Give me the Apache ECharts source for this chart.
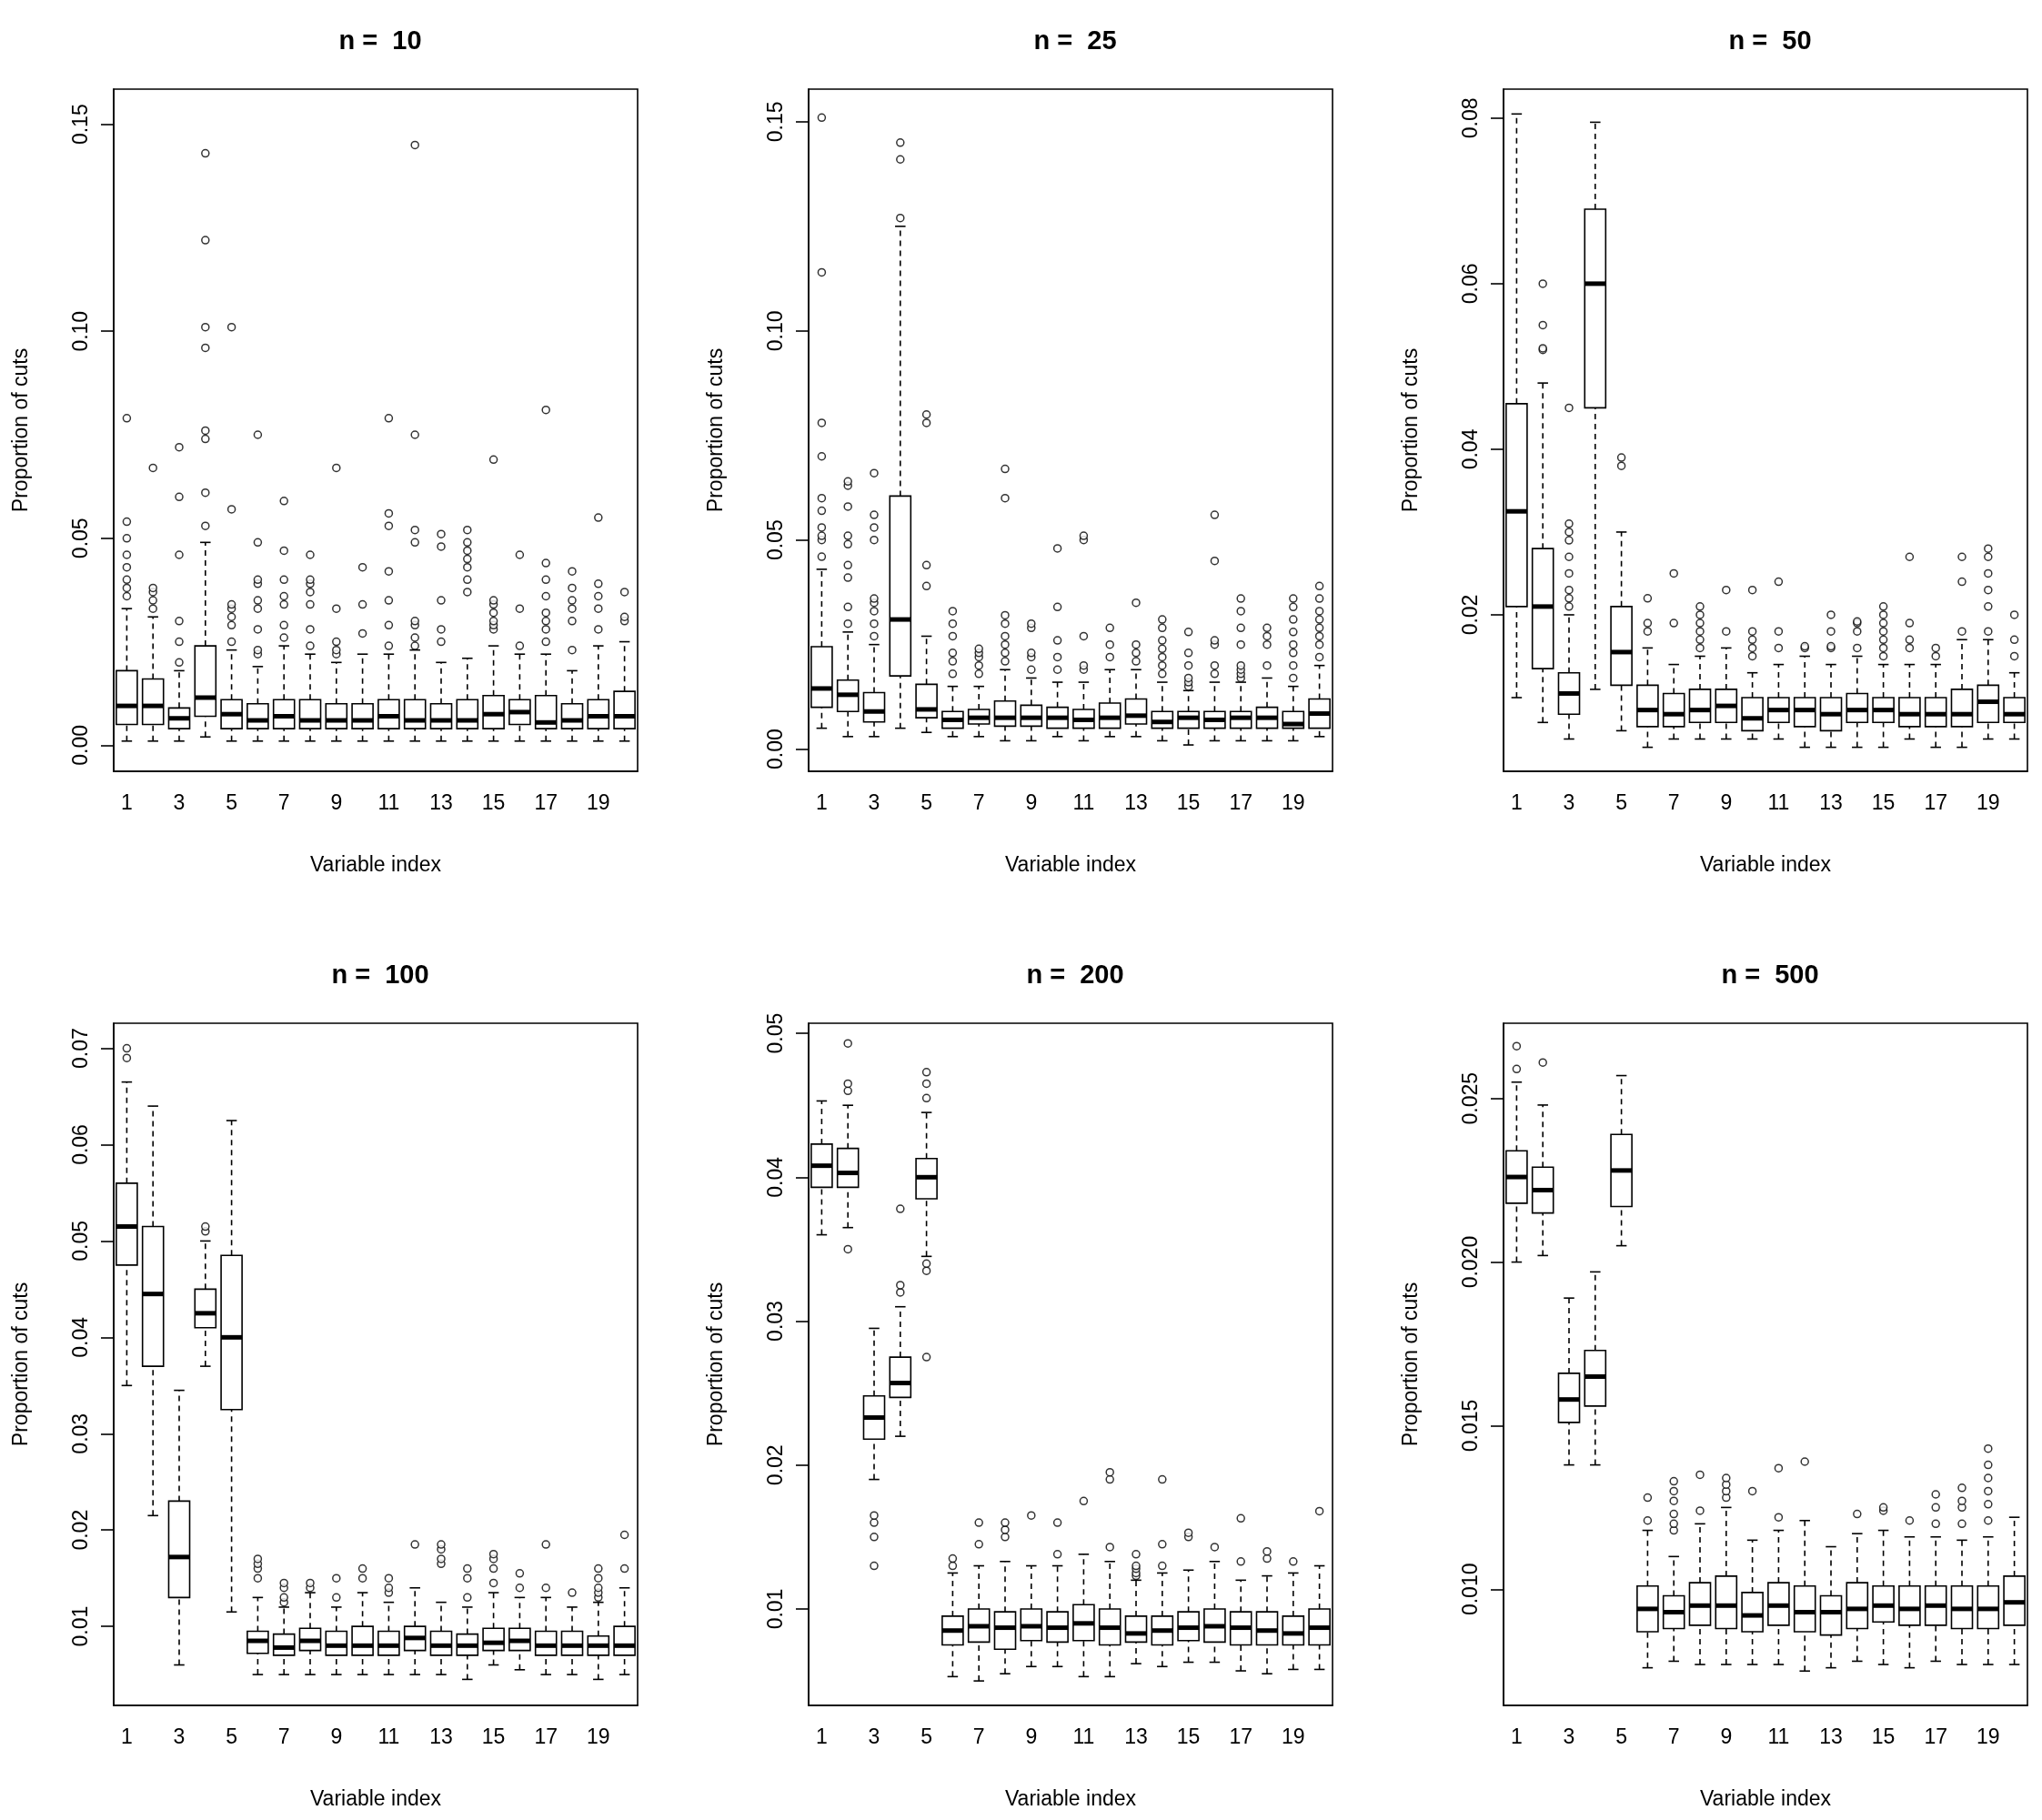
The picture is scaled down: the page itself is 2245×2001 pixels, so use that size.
<!DOCTYPE html><html><head><meta charset="utf-8">
<script src="https://cdn.jsdelivr.net/npm/echarts@6/dist/echarts.min.js"></script>
<style>html,body{margin:0;background:#fff}#c{width:2245px;height:2001px}</style></head><body><div id="c"></div><script>
const categories=Array.from({length:20},(_,i)=>String(i+1));
const panelTitles=["n =  10","n =  25","n =  50","n =  100","n =  200","n =  500"];
const yMin=[-0.0063,-0.0053,0.0011,0.0018,0.0033,0.00645];
const yMax=[0.1585,0.1578,0.0835,0.0726,0.0507,0.0273];
const yTicks=[[0,0.05,0.10,0.15],[0,0.05,0.10,0.15],[0.02,0.04,0.06,0.08],[0.01,0.02,0.03,0.04,0.05,0.06,0.07],[0.01,0.02,0.03,0.04,0.05],[0.010,0.015,0.020,0.025]];
const yDecimals=[2,2,2,2,2,3];
const stats10=[[0.001,0.005,0.0095,0.018,0.033],[0.001,0.005,0.0095,0.016,0.031],[0.001,0.004,0.0065,0.009,0.018],[0.002,0.007,0.0115,0.024,0.049],[0.001,0.004,0.0075,0.011,0.023],[0.001,0.004,0.006,0.010,0.019],[0.001,0.004,0.007,0.011,0.024],[0.001,0.004,0.006,0.011,0.022],[0.001,0.004,0.006,0.010,0.020],[0.001,0.004,0.006,0.010,0.022],[0.001,0.004,0.007,0.011,0.022],[0.001,0.004,0.006,0.011,0.023],[0.001,0.004,0.006,0.010,0.020],[0.001,0.004,0.006,0.011,0.021],[0.001,0.004,0.0075,0.012,0.024],[0.001,0.005,0.008,0.011,0.022],[0.001,0.004,0.0055,0.012,0.022],[0.001,0.004,0.006,0.010,0.018],[0.001,0.004,0.007,0.011,0.024],[0.001,0.004,0.007,0.013,0.025]];
const out10=[[0.036,0.038,0.040,0.043,0.046,0.05,0.054,0.079],[0.033,0.035,0.037,0.038,0.067],[0.02,0.025,0.030,0.046,0.060,0.072],[0.053,0.061,0.074,0.076,0.096,0.101,0.122,0.143],[0.025,0.029,0.031,0.033,0.034,0.057,0.101],[0.022,0.023,0.028,0.033,0.035,0.039,0.040,0.049,0.075],[0.026,0.029,0.034,0.036,0.040,0.047,0.059],[0.024,0.028,0.034,0.037,0.039,0.040,0.046],[0.022,0.023,0.025,0.033,0.067],[0.027,0.034,0.043],[0.024,0.029,0.035,0.042,0.053,0.056,0.079],[0.024,0.026,0.029,0.030,0.049,0.052,0.075,0.145],[0.025,0.028,0.035,0.048,0.051],[0.037,0.040,0.043,0.045,0.047,0.049,0.052],[0.028,0.029,0.030,0.032,0.034,0.035,0.069],[0.024,0.033,0.046],[0.025,0.028,0.030,0.032,0.036,0.040,0.044,0.081],[0.023,0.030,0.033,0.035,0.038,0.042],[0.028,0.033,0.036,0.039,0.055],[0.030,0.031,0.037]];
const stats25=[[0.005,0.010,0.0145,0.0245,0.043],[0.003,0.009,0.013,0.0165,0.028],[0.003,0.0065,0.009,0.0135,0.025],[0.005,0.0175,0.031,0.0605,0.125],[0.004,0.0075,0.0095,0.0155,0.027],[0.003,0.005,0.007,0.009,0.015],[0.003,0.006,0.0075,0.0095,0.015],[0.002,0.0055,0.0075,0.0115,0.019],[0.002,0.0055,0.0075,0.0105,0.017],[0.003,0.005,0.0075,0.010,0.016],[0.002,0.005,0.007,0.0095,0.016],[0.003,0.005,0.0075,0.011,0.019],[0.003,0.006,0.008,0.012,0.019],[0.002,0.005,0.0065,0.009,0.016],[0.001,0.005,0.0075,0.009,0.014],[0.002,0.005,0.007,0.009,0.016],[0.002,0.005,0.0075,0.009,0.016],[0.002,0.005,0.0075,0.010,0.017],[0.002,0.005,0.006,0.009,0.015],[0.003,0.005,0.0085,0.012,0.020]];
const out25=[[0.046,0.050,0.051,0.053,0.057,0.060,0.070,0.078,0.114,0.151],[0.030,0.034,0.041,0.044,0.049,0.051,0.058,0.063,0.064],[0.027,0.030,0.033,0.035,0.036,0.050,0.053,0.056,0.066],[0.127,0.141,0.145],[0.039,0.044,0.078,0.080],[0.018,0.021,0.023,0.027,0.030,0.033],[0.018,0.020,0.022,0.023,0.024],[0.021,0.023,0.025,0.027,0.030,0.032,0.060,0.067],[0.019,0.022,0.023,0.029,0.030],[0.019,0.022,0.026,0.034,0.048],[0.019,0.020,0.027,0.050,0.051],[0.022,0.025,0.029],[0.021,0.023,0.025,0.035],[0.018,0.020,0.022,0.024,0.026,0.029,0.031],[0.015,0.016,0.017,0.020,0.023,0.028],[0.018,0.020,0.025,0.026,0.045,0.056],[0.017,0.018,0.019,0.020,0.025,0.029,0.033,0.036],[0.020,0.025,0.027,0.029],[0.017,0.020,0.023,0.025,0.028,0.031,0.034,0.036],[0.022,0.025,0.027,0.029,0.031,0.033,0.036,0.039]];
const stats50=[[0.010,0.021,0.0325,0.0455,0.0805],[0.007,0.0135,0.021,0.028,0.048],[0.005,0.008,0.0105,0.013,0.020],[0.011,0.045,0.060,0.069,0.0795],[0.006,0.0115,0.0155,0.021,0.030],[0.004,0.0065,0.0085,0.0115,0.016],[0.005,0.0065,0.008,0.0105,0.014],[0.005,0.007,0.0085,0.011,0.015],[0.005,0.007,0.009,0.011,0.016],[0.005,0.006,0.0075,0.010,0.013],[0.005,0.007,0.0085,0.010,0.014],[0.004,0.0065,0.0085,0.010,0.015],[0.004,0.006,0.008,0.010,0.014],[0.004,0.007,0.0085,0.0105,0.015],[0.004,0.007,0.0085,0.010,0.014],[0.005,0.0065,0.008,0.010,0.014],[0.004,0.0065,0.008,0.010,0.014],[0.004,0.0065,0.008,0.011,0.017],[0.005,0.007,0.0095,0.0115,0.017],[0.005,0.007,0.008,0.010,0.013]];
const out50=[[],[0.052,0.0522,0.055,0.060],[0.021,0.022,0.023,0.025,0.027,0.029,0.030,0.031,0.045],[],[0.038,0.039],[0.018,0.019,0.022],[0.019,0.025],[0.016,0.017,0.018,0.019,0.020,0.021],[0.018,0.023],[0.015,0.016,0.017,0.018,0.023],[0.016,0.018,0.024],[0.016,0.0162],[0.016,0.0162,0.018,0.020],[0.016,0.018,0.019,0.0192],[0.015,0.016,0.017,0.018,0.019,0.020,0.021],[0.016,0.017,0.019,0.027],[0.015,0.016],[0.018,0.024,0.027],[0.018,0.021,0.023,0.025,0.027,0.028],[0.015,0.017,0.020]];
const stats100=[[0.035,0.0475,0.0515,0.056,0.0665],[0.0215,0.037,0.0445,0.0515,0.064],[0.006,0.013,0.0172,0.023,0.0345],[0.037,0.041,0.0425,0.045,0.050],[0.0115,0.0325,0.040,0.0485,0.0625],[0.005,0.0072,0.0085,0.0095,0.013],[0.005,0.007,0.0078,0.0092,0.012],[0.005,0.0075,0.0085,0.0098,0.0135],[0.005,0.007,0.008,0.0095,0.012],[0.005,0.007,0.008,0.010,0.0135],[0.005,0.007,0.008,0.0095,0.0125],[0.005,0.0075,0.0088,0.010,0.014],[0.005,0.007,0.008,0.0095,0.0125],[0.0045,0.007,0.008,0.0092,0.012],[0.006,0.0075,0.0083,0.0098,0.0135],[0.0055,0.0075,0.0085,0.0098,0.013],[0.005,0.007,0.008,0.0095,0.013],[0.005,0.007,0.008,0.0095,0.012],[0.0045,0.007,0.008,0.009,0.0125],[0.005,0.007,0.008,0.010,0.014]];
const out100=[[0.069,0.070],[],[],[0.051,0.0515],[],[0.015,0.016,0.0165,0.017],[0.0125,0.013,0.014,0.0145],[0.014,0.0145],[0.013,0.015],[0.015,0.016],[0.0135,0.014,0.015],[0.0185],[0.0165,0.017,0.018,0.0185],[0.013,0.015,0.016],[0.0145,0.016,0.017,0.0175],[0.014,0.0155],[0.014,0.0185],[0.0135],[0.013,0.0135,0.014,0.015,0.016],[0.016,0.0195]];
const stats200=[[0.036,0.0393,0.0408,0.0423,0.0453],[0.0365,0.0393,0.0403,0.042,0.045],[0.019,0.0218,0.0233,0.0248,0.0295],[0.022,0.0247,0.0257,0.0275,0.031],[0.0345,0.0385,0.040,0.0413,0.0445],[0.0053,0.0075,0.0085,0.0095,0.0125],[0.005,0.0077,0.0088,0.010,0.013],[0.0055,0.0072,0.0087,0.0098,0.0133],[0.006,0.0078,0.0088,0.010,0.013],[0.006,0.0077,0.0087,0.0098,0.013],[0.0053,0.0078,0.009,0.0103,0.0138],[0.0053,0.0075,0.0087,0.010,0.0133],[0.0062,0.0077,0.0083,0.0095,0.012],[0.006,0.0075,0.0085,0.0095,0.0125],[0.0063,0.0078,0.0087,0.0098,0.0127],[0.0063,0.0077,0.0088,0.010,0.0133],[0.0057,0.0075,0.0087,0.0098,0.012],[0.0055,0.0075,0.0085,0.0098,0.0123],[0.0058,0.0075,0.0083,0.0095,0.0125],[0.0058,0.0075,0.0087,0.010,0.013]];
const out200=[[],[0.035,0.046,0.0465,0.0493],[0.013,0.015,0.016,0.0165],[0.032,0.0325,0.0378],[0.0275,0.0335,0.034,0.0455,0.0465,0.0473],[0.013,0.0135],[0.0145,0.016],[0.015,0.0155,0.016],[0.0165],[0.0138,0.016],[0.0175],[0.0143,0.019,0.0195],[0.0123,0.0125,0.0128,0.013,0.0138],[0.013,0.0145,0.019],[0.015,0.0153],[0.0143],[0.0133,0.0163],[0.0135,0.014],[0.0133],[0.0168]];
const stats500=[[0.020,0.0218,0.0226,0.0234,0.0255],[0.0202,0.0215,0.0222,0.0229,0.0248],[0.0138,0.0151,0.0158,0.0166,0.0189],[0.0138,0.0156,0.0165,0.0173,0.0197],[0.0205,0.0217,0.0228,0.0239,0.0257],[0.0076,0.0087,0.0094,0.0101,0.0118],[0.0078,0.0088,0.0093,0.0098,0.011],[0.0077,0.0089,0.0095,0.0102,0.012],[0.0077,0.0088,0.0095,0.0104,0.0125],[0.0077,0.0087,0.0092,0.0099,0.0115],[0.0077,0.0089,0.0095,0.0102,0.0118],[0.0075,0.0087,0.0093,0.0101,0.0121],[0.0076,0.0086,0.0093,0.0098,0.0113],[0.0078,0.0088,0.0094,0.0102,0.0117],[0.0077,0.009,0.0095,0.0101,0.0118],[0.0076,0.0089,0.0094,0.0101,0.0116],[0.0078,0.0089,0.0095,0.0101,0.0116],[0.0077,0.0088,0.0094,0.0101,0.0115],[0.0077,0.0088,0.0094,0.0101,0.0116],[0.0077,0.0089,0.0096,0.0104,0.0122]];
const out500=[[0.0259,0.0266],[0.0261],[],[],[],[0.0121,0.0128],[0.0118,0.012,0.0123,0.0127,0.013,0.0133],[0.0124,0.0135],[0.0128,0.013,0.0132,0.0134],[0.013],[0.0122,0.0137],[0.0139],[],[0.0123],[0.0124,0.0125],[0.0121],[0.012,0.0125,0.0129],[0.012,0.0125,0.0127,0.0131],[0.0121,0.0126,0.013,0.0134,0.0138,0.0143],[]];
const allStats=[stats10,stats25,stats50,stats100,stats200,stats500];
const allOut=[out10,out25,out50,out100,out200,out500];

const F='"Liberation Sans", Arial, sans-serif';
const lefts=[125,889,1653], tops=[98,1125], W=576, H=750;
const opt={animation:false,title:[],grid:[],xAxis:[],yAxis:[],series:[]};
function renderBox(p,api){
  const x=api.value(0), v=[1,2,3,4,5].map(i=>api.value(i));
  const c=api.coord([x,v[2]]), bw=api.size([1,0])[0];
  const hw=bw*0.4, sw=bw*0.2, cx=c[0];
  const y=v.map(t=>api.coord([x,t])[1]);
  const s={stroke:'#000',lineWidth:1.6,fill:null};
  return {type:'group',children:[
    {type:'line',shape:{x1:cx,y1:y[0],x2:cx,y2:y[1]},style:{stroke:'#000',lineWidth:1.6,lineDash:[6,5]}},
    {type:'line',shape:{x1:cx,y1:y[3],x2:cx,y2:y[4]},style:{stroke:'#000',lineWidth:1.6,lineDash:[6,5]}},
    {type:'line',shape:{x1:cx-sw,y1:y[0],x2:cx+sw,y2:y[0]},style:s},
    {type:'line',shape:{x1:cx-sw,y1:y[4],x2:cx+sw,y2:y[4]},style:s},
    {type:'rect',shape:{x:cx-hw,y:y[3],width:2*hw,height:y[1]-y[3]},style:{stroke:'#000',lineWidth:1.6,fill:'#fff'}},
    {type:'line',shape:{x1:cx-hw,y1:y[2],x2:cx+hw,y2:y[2]},style:{stroke:'#000',lineWidth:5}}
  ]};
}
for(let k=0;k<6;k++){
  const l=lefts[k%3], t=tops[Math.floor(k/3)];
  opt.title.push({text:panelTitles[k],left:l+W/2,top:t-72,textAlign:'center',textStyle:{fontFamily:F,fontSize:29,fontWeight:'bold',color:'#000'}});
  opt.grid.push({left:l,top:t,width:W,height:H,show:true,borderColor:'#000',borderWidth:1.6,backgroundColor:'transparent'});
  opt.xAxis.push({type:'category',gridIndex:k,data:categories,boundaryGap:true,name:'Variable index',nameLocation:'middle',nameGap:92,nameTextStyle:{fontFamily:F,fontSize:23,color:'#000'},
    axisLine:{onZero:false,lineStyle:{color:'#000',width:1.6}},axisTick:{alignWithLabel:true,interval:0,length:14,lineStyle:{color:'#000',width:1.6}},
    axisLabel:{interval:1,margin:24,fontFamily:F,fontSize:23,color:'#000'},splitLine:{show:false}});
  const d=yDecimals[k];
  opt.yAxis.push({type:'value',gridIndex:k,min:yMin[k],max:yMax[k],name:'Proportion of cuts',nameLocation:'middle',nameGap:90,nameTextStyle:{fontFamily:F,fontSize:23,color:'#000'},
    axisLine:{show:true,onZero:false,lineStyle:{color:'#000',width:1.6}},axisTick:{show:true,length:14,customValues:yTicks[k],lineStyle:{color:'#000',width:1.6}},
    axisLabel:{rotate:90,margin:24,customValues:yTicks[k],formatter:v=>v.toFixed(d),fontFamily:F,fontSize:23,color:'#000'},splitLine:{show:false}});
  opt.series.push({type:'custom',xAxisIndex:k,yAxisIndex:k,renderItem:renderBox,data:allStats[k].map((s,i)=>[i,...s]),z:2});
  const pts=[];allOut[k].forEach((a,i)=>a.forEach(v=>pts.push([i,v])));
  opt.series.push({type:'scatter',xAxisIndex:k,yAxisIndex:k,data:pts,symbol:'circle',symbolSize:8,itemStyle:{color:'#fff',borderColor:'#000',borderWidth:1.5},z:3});
}
echarts.init(document.getElementById('c')).setOption(opt);
</script></body></html>
